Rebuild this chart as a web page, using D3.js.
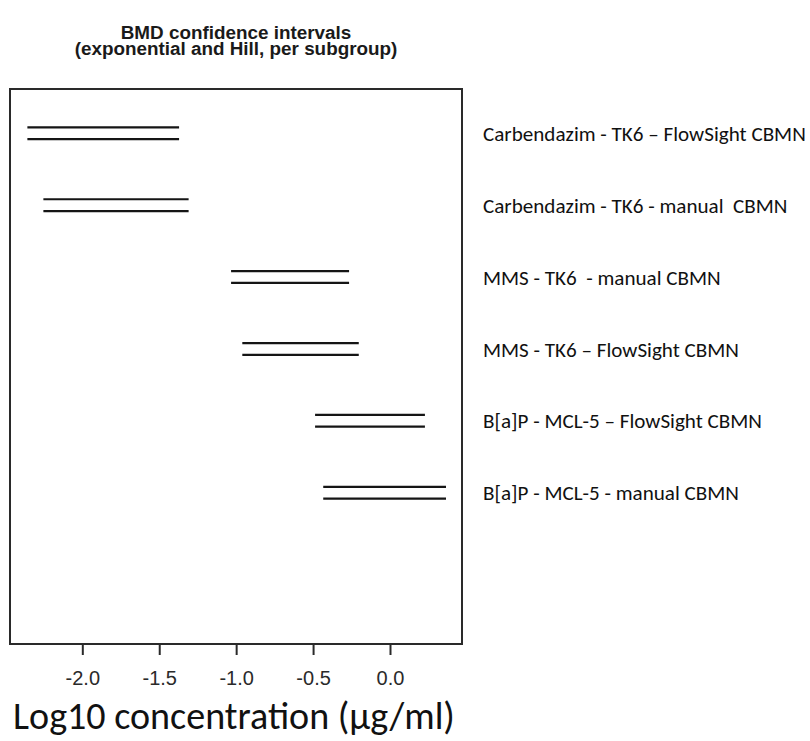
<!DOCTYPE html>
<html>
<head>
<meta charset="utf-8">
<script src="https://cdn.jsdelivr.net/npm/d3@7"></script>
<style>
  html, body { margin: 0; padding: 0; background: #fff; }
  svg { display: block; }
</style>
</head>
<body>
<svg id="chart" width="810" height="741"></svg>
<script>
// ---- data ----
const subgroups = [
  "Carbendazim - TK6 \u2013 FlowSight CBMN",
  "Carbendazim - TK6 - manual  CBMN",
  "MMS - TK6  - manual CBMN",
  "MMS - TK6 \u2013 FlowSight CBMN",
  "B[a]P - MCL-5 \u2013 FlowSight CBMN",
  "B[a]P - MCL-5 - manual CBMN"
];
// BMD confidence interval bounds (log10 µg/ml)
const expLower  = [-2.357, -2.253, -1.033, -0.960, -0.487, -0.434];
const expUpper  = [-1.371, -1.309, -0.266, -0.203,  0.227,  0.364];
const hillLower = [-2.357, -2.253, -1.033, -0.960, -0.487, -0.434];
const hillUpper = [-1.371, -1.309, -0.266, -0.203,  0.227,  0.364];
const xTicks = [-2.0, -1.5, -1.0, -0.5, 0.0];
const titleLines = ["BMD confidence intervals", "(exponential and Hill, per subgroup)"];
const xTitle = "Log10 concentration (\u00b5g/ml)";

// ---- layout ----
const svg = d3.select("#chart");
const box = { left: 10, right: 462, top: 89, bottom: 644 };

const x = d3.scaleLinear().domain([-2.47, 0.468]).range([box.left, box.right]);
const y = d3.scaleLinear().domain([0.384, 8.105]).range([box.top, box.bottom]);
const pairOffset = 0.082;

function fitFont(sel, target) {
  const w = sel.node().getComputedTextLength();
  const fs = parseFloat(sel.style("font-size"));
  return fs * target / w;
}

// Title
const titleG = svg.append("g");
const titleBase = [39, 55];
titleLines.forEach((t, i) => {
  titleG.append("text")
    .attr("x", 236).attr("y", titleBase[i])
    .attr("text-anchor", "middle")
    .style("font-family", "'Liberation Sans', Arial, sans-serif")
    .style("font-weight", "bold")
    .style("font-size", "19px")
    .style("fill", "#1a1a1a")
    .text(t);
});
{
  const t2 = titleG.selectAll("text").filter((d, i) => i === 1);
  const fs = fitFont(t2, 323);
  titleG.selectAll("text").style("font-size", fs + "px");
}

// Intervals
const rows = subgroups.map((s, i) => ({
  name: s, row: i + 1,
  expLo: expLower[i], expHi: expUpper[i],
  hillLo: hillLower[i], hillHi: hillUpper[i]
}));

const segs = [];
rows.forEach(r => {
  segs.push({ lo: r.expLo, hi: r.expHi, yv: r.row - pairOffset });
  segs.push({ lo: r.hillLo, hi: r.hillHi, yv: r.row + pairOffset });
});

svg.append("g").selectAll("line")
  .data(segs).join("line")
  .attr("x1", d => x(d.lo)).attr("x2", d => x(d.hi))
  .attr("y1", d => y(d.yv)).attr("y2", d => y(d.yv))
  .attr("stroke", "#151515")
  .attr("stroke-width", 2.2);

// Box
svg.append("rect")
  .attr("x", box.left).attr("y", box.top)
  .attr("width", box.right - box.left).attr("height", box.bottom - box.top)
  .attr("fill", "none")
  .attr("stroke", "#2a2a2a")
  .attr("stroke-width", 2);

// X axis
const axis = d3.axisBottom(x).tickValues(xTicks).tickFormat(d3.format(".1f"))
  .tickSize(11).tickPadding(16);
const ax = svg.append("g").attr("transform", `translate(0,${box.bottom})`).call(axis);
ax.select(".domain").remove();
ax.selectAll(".tick line").attr("stroke", "#2a2a2a").attr("stroke-width", 2);
ax.selectAll(".tick text")
  .style("font-family", "'Liberation Sans', Arial, sans-serif")
  .style("font-size", "20px")
  .style("fill", "#2a2a2a")
  .text(d => d3.format(".1f")(d).replace("\u2212", "-"));

// Axis title
const xt = svg.append("text")
  .attr("x", 234).attr("y", 729)
  .attr("text-anchor", "middle")
  .style("font-family", "Carlito, Calibri, Lato, sans-serif")
  .style("font-size", "38px")
  .style("fill", "#111")
  .text(xTitle);
xt.style("font-size", fitFont(xt, 442) + "px");

// Subgroup labels
const lab = svg.append("g").selectAll("text")
  .data(rows).join("text")
  .attr("x", 483)
  .attr("y", d => y(d.row))
  .attr("dy", "0.36em")
  .style("font-family", "Carlito, Calibri, Lato, sans-serif")
  .style("font-size", "19px")
  .style("fill", "#111")
  .style("white-space", "pre")
  .attr("xml:space", "preserve")
  .text(d => d.name);
{
  const first = lab.filter((d, i) => i === 0);
  const fs = fitFont(first, 323);
  lab.style("font-size", fs + "px");
}
</script>
</body>
</html>
